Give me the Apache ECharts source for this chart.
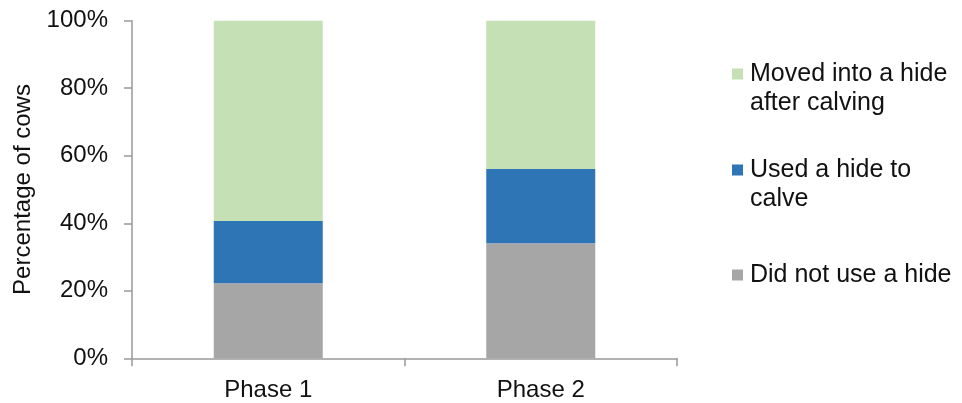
<!DOCTYPE html>
<html>
<head>
<meta charset="utf-8">
<script src="https://cdn.jsdelivr.net/npm/echarts@6/dist/echarts.min.js"></script>
<style>
  html, body { margin: 0; padding: 0; background: #ffffff; }
  #chart { width: 962px; height: 403px; }
</style>
</head>
<body>
<div id="chart"></div>
<script>
// Share of cows by hide use, per study phase (percent)
const phases = ['Phase 1', 'Phase 2'];
const didNotUse = [22.2, 34.1];
const usedToCalve = [18.5, 22.0];
const movedAfter = [59.3, 43.9];
const yTicks = [0, 20, 40, 60, 80, 100];

const seriesNames = ['Did not use a hide', 'Used a hide to calve', 'Moved into a hide after calving'];
const colors = ['#a6a6a6', '#2e75b6', '#c5e0b4'];

const FONT = '"Liberation Sans", Arial, sans-serif';
const textColor = '#111111';
const axisColor = '#999999';

const chart = echarts.init(document.getElementById('chart'), null, { renderer: 'canvas' });

// legend label lines: leading blank line keeps the marker beside the first line
const legendLabels = {
  'Moved into a hide after calving': '\nMoved into a hide\nafter calving',
  'Used a hide to calve': '\nUsed a hide to\ncalve',
  'Did not use a hide': 'Did not use a hide'
};

function legendFor(name, top) {
  return {
    data: [name],
    left: 732,
    top: top,
    orient: 'vertical',
    icon: 'rect',
    itemWidth: 11,
    itemHeight: 11,
    itemGap: 0,
    padding: 0,
    selectedMode: false,
    formatter: (n) => legendLabels[n],
    textStyle: {
      fontFamily: FONT,
      fontSize: 25,
      color: textColor,
      lineHeight: 29,
      padding: [0, 0, 0, 2]
    }
  };
}

chart.setOption({
  backgroundColor: '#ffffff',
  animation: false,
  textStyle: { fontFamily: FONT },
  grid: { left: 132, top: 20.7, width: 545, height: 337.6, containLabel: false },
  legend: [
    legendFor('Moved into a hide after calving', 74 - 43.5),
    legendFor('Used a hide to calve', 170 - 43.5),
    legendFor('Did not use a hide', 275 - 14.5)
  ],
  xAxis: {
    type: 'category',
    data: phases,
    boundaryGap: true,
    axisLine: { show: true, lineStyle: { color: axisColor, width: 1.5 } },
    axisTick: { show: true, length: 8, alignWithLabel: false, lineStyle: { color: axisColor, width: 1.5 } },
    axisLabel: { fontFamily: FONT, fontSize: 24, color: textColor, margin: 20 },
    splitLine: { show: false }
  },
  yAxis: {
    type: 'value',
    min: 0,
    max: 100,
    interval: 20,
    name: 'Percentage of cows',
    nameLocation: 'middle',
    nameGap: 95,
    nameTextStyle: { fontFamily: FONT, fontSize: 24, color: textColor },
    axisLine: { show: true, lineStyle: { color: axisColor, width: 1.5 } },
    axisTick: { show: true, length: 8, lineStyle: { color: axisColor, width: 1.5 } },
    axisLabel: {
      fontFamily: FONT, fontSize: 24, color: textColor, margin: 24,
      formatter: (v) => (yTicks.includes(v) ? v + '%' : '')
    },
    splitLine: { show: false }
  },
  series: [
    { name: seriesNames[0], type: 'bar', stack: 'cows', data: didNotUse, barWidth: '40%', itemStyle: { color: colors[0] } },
    { name: seriesNames[1], type: 'bar', stack: 'cows', data: usedToCalve, barWidth: '40%', itemStyle: { color: colors[1] } },
    { name: seriesNames[2], type: 'bar', stack: 'cows', data: movedAfter, barWidth: '40%', itemStyle: { color: colors[2] } }
  ]
});
</script>
</body>
</html>
